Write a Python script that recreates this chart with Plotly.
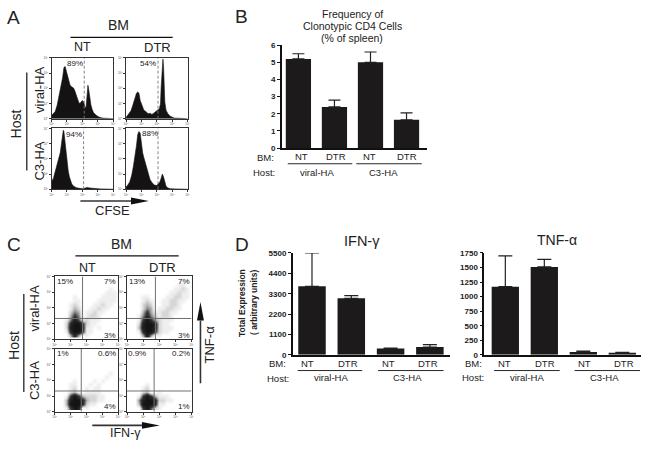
import plotly.graph_objects as go

W, H = 650, 451
INK = "#222222"
BAR = "#1c1a1a"

# ---------- Panel A: CFSE histograms (x % of axis, height %) ----------
hist_nt_viral_x = [0,3,6,9,12,15,18,20,22,24,26,28,30,32,34,36,38,40,42,44,46,48,50,52,54,56,57,58,59,60,62,64,66,68,72,76,82,90,100]
hist_nt_viral_y = [5,8,12,22,38,50,68,84,86,78,70,60,55,53,52,50,45,38,33,27,25,28,30,28,20,18,30,45,55,50,30,22,15,10,6,3,1,.5,0]
hist_dtr_viral_x = [0,4,8,11,14,17,19,21,23,26,29,33,36,39,42,45,48,51,54,56,57,58,59,60,61,62,63,65,68,72,78,90,100]
hist_dtr_viral_y = [2,8,13,22,34,42,44,42,30,22,14,11,8,9,7,9,12,14,16,24,50,75,92,98,85,50,28,14,8,4,1,.5,0]
hist_nt_c3_x = [0,2,4,6,8,10,12,14,16,18,19,20,21,23,25,27,29,31,33,36,40,45,50,55,58,62,70,80,100]
hist_nt_c3_y = [18,14,22,30,38,45,52,60,75,92,97,95,85,62,45,30,20,12,8,5,2.5,1.5,1,2,3,2,1,.5,0]
hist_dtr_c3_x = [0,3,6,9,12,15,17,19,21,23,25,27,29,31,33,36,39,42,46,50,53,55,57,59,61,63,65,68,72,80,100]
hist_dtr_c3_y = [4,7,12,22,38,55,72,90,95,92,75,60,52,44,35,25,16,11,7,6,9,12,18,25,20,10,5,2,1,.5,0]
gate_a = [53, 52, 52, 52]
pct_a = ["89%", "54%", "94%", "88%"]

# ---------- Panel C: dot density read by eye, rows listed top to bottom ----------
dens_nt_viral = [
 "0000000000000000","0000000000000000","0000000000000000","0000000000000100",
 "0000000000001110","0000100000011110","0000110000111110","0001210001121100",
 "0001320011211000","0002430112110000","0003640122100000","0014851211100000",
 "0027996211000000","0028997110100000","0017996110000000","0003730100000000"]
dens_dtr_viral = [
 "0000000000000000","0000000000000100","0000000000001100","0000000000011210",
 "0000000000112110","0001100001122110","0001210011221100","0002320011221000",
 "0002430112211000","0003631122110000","0014742122100000","0016963211100000",
 "0028997211000000","0038997211100000","0017996211000000","0003830100000000"]
dens_nt_c3 = [
 "0000000000000000","0000000000000000","0000000000000000","0000000000000000",
 "0000000000000000","0000000000000000","0000000000000100","0000000000001000",
 "0000100001010000","0001100010100000","0001200101100000","0002310111100000",
 "0016963222110000","0038997322110000","0039997211000000","0016980100000000"]
dens_dtr_c3 = [
 "0000000000000000","0000000000000000","0000000000000000","0000000000000000",
 "0000000000000000","0000000000000000","0000000000000000","0000000000000000",
 "0000000000000000","0000100000000000","0001200000000000","0002300100000000",
 "0016963111000000","0048997221100000","0039997110000000","0006952100000000"]
cross_v = [44, 44, 42, 42]
cross_h = [33, 33, 33, 33]

# ---------- Bars ----------
b_freq = [5.2, 2.4, 5.0, 1.65]
b_freq_err = [0.3, 0.4, 0.6, 0.4]
d_ifn = [3700, 3050, 340, 420]
d_ifn_err = [1800, 150, 20, 130]
d_tnf = [1170, 1510, 50, 35]
d_tnf_err = [530, 130, 15, 10]
bm_labels = ["NT", "DTR", "NT", "DTR"]
freq_ticks = [0, 1, 2, 3, 4, 5, 6]
ifn_ticks = [0, 1100, 2200, 3300, 4400, 5500]
tnf_ticks = [0, 250, 500, 750, 1000, 1250, 1500, 1750]

fig = go.Figure()
layout = {}
shapes = []
annots = []
naxis = [0]


def px(x):
    return x / W


def py(y):
    return 1 - y / H


def new_axes(x0, x1, y0, y1, xa, ya):
    naxis[0] += 1
    n = naxis[0]
    s = "" if n == 1 else str(n)
    layout["xaxis" + s] = dict(domain=[px(x0), px(x1)], anchor="y" + s, **xa)
    layout["yaxis" + s] = dict(domain=[py(y1), py(y0)], anchor="x" + s, **ya)
    return "x" + s, "y" + s


def txt(x, y, s, size=12, bold=False, angle=0, color=INK):
    annots.append(dict(x=px(x), y=py(y), xref="paper", yref="paper", text=f"<b>{s}</b>" if bold else s,
                       showarrow=False, xanchor="center", yanchor="middle", textangle=angle,
                       font=dict(family="Liberation Sans", size=size, color=color)))


def rule(x0, y0, x1, y1, width=1.2, color="#111111"):
    shapes.append(dict(type="line", xref="paper", yref="paper", x0=px(x0), y0=py(y0), x1=px(x1), y1=py(y1),
                       line=dict(color=color, width=width)))


def arrow_h(x0, x1, y, head):
    rule(x0, y, x1 - head, y, 1.6, "#333333")
    p = f"M{px(x1-head)},{py(y-3.5)} L{px(x1)},{py(y)} L{px(x1-head)},{py(y+3.5)} Z"
    shapes.append(dict(type="path", xref="paper", yref="paper", path=p, fillcolor="#111111", line=dict(width=0)))


def arrow_v(x, y0, y1, head):
    rule(x, y0, x, y1 + head, 1.6, "#333333")
    p = f"M{px(x-3.5)},{py(y1+head)} L{px(x)},{py(y1)} L{px(x+3.5)},{py(y1+head)} Z"
    shapes.append(dict(type="path", xref="paper", yref="paper", path=p, fillcolor="#111111", line=dict(width=0)))


log_ticks = [0, 25, 50, 75, 100]
log_text = ["10<sup>0</sup>", "10<sup>1</sup>", "10<sup>2</sup>", "10<sup>3</sup>", "10<sup>4</sup>"]


def tiny_axis(labels_x=True, labels_y=True):
    return dict(range=[0, 100], mirror=True, showline=True, linecolor="#333333", linewidth=1, showgrid=False,
                zeroline=False, ticks="outside", ticklen=2, tickwidth=0.6, tickcolor="#333333",
                tickvals=log_ticks, ticktext=log_text, tickfont=dict(size=3, color="#555555", family="Liberation Sans"))


# ---------- Panel A ----------
hist_boxes = [(50, 112, 55, 117), (125, 187, 55, 117), (50, 112, 127, 189), (125, 187, 127, 189)]
hist_x = [hist_nt_viral_x, hist_dtr_viral_x, hist_nt_c3_x, hist_dtr_c3_x]
hist_y = [hist_nt_viral_y, hist_dtr_viral_y, hist_nt_c3_y, hist_dtr_c3_y]
for box, hx, hy, g in zip(hist_boxes, hist_x, hist_y, gate_a):
    xa, ya = new_axes(*box, tiny_axis(), tiny_axis())
    fig.add_trace(go.Scatter(x=hx, y=hy, xaxis=xa, yaxis=ya, mode="lines", fill="tozeroy",
                             fillcolor="#141212", line=dict(color="#141212", width=0.6), showlegend=False))
    shapes.append(dict(type="line", xref=xa, yref=ya, x0=g, x1=g, y0=0, y1=100, layer="above",
                       line=dict(color="#777777", width=0.9, dash="3px,2px")))

for (x, y), s in zip([(74, 61), (147, 61), (73, 133), (149, 132)], pct_a):
    txt(x, y, s, 8)

txt(12, 14, "A", 19)
txt(117, 21, "BM", 14)
rule(69, 34, 172, 34)
txt(81, 44, "NT", 12.5)
txt(157, 44, "DTR", 13)
txt(14, 122, "Host", 14, angle=-90)
rule(25, 70, 25, 170)
txt(38, 87, "viral-HA", 13, angle=-90)
txt(38, 160, "C3-HA", 13, angle=-90)
arrow_h(79, 148, 201, 18)
txt(111, 211, "CFSE", 13)

# ---------- Panel C ----------
dot_boxes = [(53, 117, 278, 342), (126, 191, 278, 342), (53, 117, 352, 416), (126, 191, 352, 416)]
grids = [dens_nt_viral, dens_dtr_viral, dens_nt_c3, dens_dtr_c3]
cells = [6 + 6.25 * i for i in range(16)]
shade = [[0, "#ffffff"], [1 / 9, "#eeeeee"], [2 / 9, "#d6d6d6"], [3 / 9, "#b2b2b2"], [4 / 9, "#858585"],
         [5 / 9, "#555555"], [6 / 9, "#333333"], [1, "#141414"]]
for box, grid, cv, ch in zip(dot_boxes, grids, cross_v, cross_h):
    xa, ya = new_axes(*box, tiny_axis(), tiny_axis())
    z = [[int(c) for c in row] for row in grid[::-1]]
    fig.add_trace(go.Heatmap(x=cells, y=cells, z=z, xaxis=xa, yaxis=ya, zmin=0, zmax=9, zsmooth="best",
                             colorscale=shade, showscale=False, hoverinfo="skip"))
    shapes.append(dict(type="line", xref=xa, yref=ya, x0=cv, x1=cv, y0=0, y1=100, layer="above",
                       line=dict(color="#707070", width=1)))
    shapes.append(dict(type="line", xref=xa, yref=ya, x0=0, x1=100, y0=ch, y1=ch, layer="above",
                       line=dict(color="#707070", width=1)))

pct_c = [(63, 283, "15%"), (109, 283, "7%"), (109, 338, "3%"), (136, 283, "13%"), (183, 283, "7%"), (183, 338, "3%"),
         (61, 357, "1%"), (106, 357, "0.6%"), (109, 411, "4%"), (136, 357, "0.9%"), (180, 357, "0.2%"), (183, 411, "1%")]
for x, y, s in pct_c:
    txt(x, y, s, 8)

txt(12, 245, "C", 19)
txt(120, 245, "BM", 14)
rule(74, 257, 178, 257)
txt(86, 269, "NT", 12.5)
txt(162, 269, "DTR", 13)
txt(12, 348, "Host", 14, angle=-90)
rule(22, 296, 22, 396)
txt(33, 310, "viral-HA", 13, angle=-90)
txt(33, 384, "C3-HA", 13, angle=-90)
arrow_h(91, 159, 430, 18)
txt(124, 438, "IFN-γ", 12.5)
arrow_v(200, 387, 304, 19)
txt(209, 347, "TNF-α", 13, angle=-90)


# ---------- Bar panels ----------
def bar_panel(box, xr, vals, errs, yr, ticks, capw):
    x0, x1, y0, y1 = box
    xa_def = dict(range=xr, showline=True, linecolor="#111111", linewidth=1.5, showgrid=False, zeroline=False,
                  showticklabels=False, ticks="")
    ya_def = dict(range=yr, showline=True, linecolor="#111111", linewidth=1.5, showgrid=False, zeroline=False,
                  ticks="outside", ticklen=3, tickwidth=1.3, tickcolor="#111111", tickvals=ticks,
                  tickfont=dict(family="Liberation Sans", size=8, color=INK, weight="bold"))
    xa, ya = new_axes(x0, x1, y0, y1, xa_def, ya_def)
    fig.add_trace(go.Bar(x=list(range(4)), y=vals, xaxis=xa, yaxis=ya, width=0.7, marker=dict(color=BAR, line=dict(width=0)),
                         error_y=dict(type="data", symmetric=False, array=errs, arrayminus=[0] * 4,
                                      color="#222222", thickness=1.2, width=capw), showlegend=False))


bar_panel((282, 428, 42, 147), [-0.46, 3.56], b_freq, b_freq_err, [0, 6], freq_ticks, 6)
bar_panel((293, 451, 254, 358), [-0.49, 3.5], d_ifn, d_ifn_err, [0, 5500], ifn_ticks, 7)
bar_panel((486, 644, 254, 358), [-0.54, 3.48], d_tnf, d_tnf_err, [0, 1750], tnf_ticks, 7)

# B labels
txt(241, 13, "B", 19)
txt(353, 10, "Frequency of", 10.5)
txt(353, 22, "Clonotypic CD4 Cells", 10.5)
txt(353, 35, "(% of spleen)", 10.5)
txt(266, 157, "BM:", 9.5)
txt(264, 172, "Host:", 9.5)
for x, s in zip([302, 337, 370, 408], bm_labels):
    txt(x, 156, s, 9.5)
rule(288, 163, 353, 163, 0.9)
rule(357, 163, 423, 163, 0.9)
txt(317, 172, "viral-HA", 9.5)
txt(384, 172, "C3-HA", 9.5)

# D labels
txt(242, 245, "D", 19)
txt(363, 242, "IFN-γ", 14.5)
txt(242, 305, "Total Expression", 8.5, bold=True, angle=-90)
txt(254, 305, "( arbitrary units)", 8.5, bold=True, angle=-90)
txt(278, 367, "BM:", 9.5)
txt(278, 382, "Host:", 9.5)
for x, s in zip([308, 349, 389, 429], bm_labels):
    txt(x, 367, s, 9.5)
rule(298, 374, 363, 374, 0.9)
rule(379, 374, 445, 374, 0.9)
txt(332, 381, "viral-HA", 9.5)
txt(409, 381, "C3-HA", 9.5)

txt(559, 241, "TNF-α", 14)
txt(475, 367, "BM:", 9.5)
txt(475, 381, "Host:", 9.5)
for x, s in zip([506, 547, 587, 627], bm_labels):
    txt(x, 367, s, 9.5)
rule(496, 374, 562, 374, 0.9)
rule(577, 374, 643, 374, 0.9)
txt(529, 381, "viral-HA", 9.5)
txt(607, 381, "C3-HA", 9.5)

fig.update_layout(width=W, height=H, margin=dict(l=0, r=0, t=0, b=0), paper_bgcolor="white", plot_bgcolor="white",
                  showlegend=False, shapes=shapes, annotations=annots, bargap=0.3, **layout)
fig.write_html("out.html", config=dict(displayModeBar=False),
               post_script="document.body.style.margin='0';document.documentElement.style.overflow='hidden';")
